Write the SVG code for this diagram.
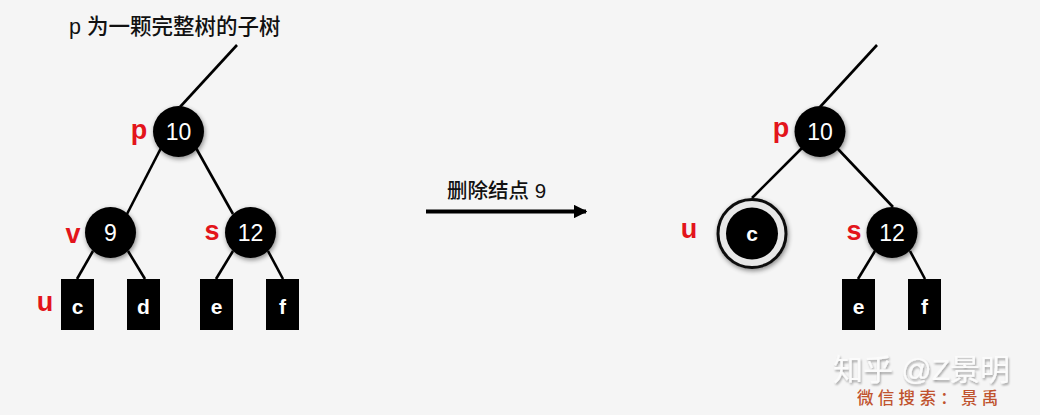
<svg xmlns="http://www.w3.org/2000/svg" width="1040" height="415" viewBox="0 0 1040 415">
<defs>
<filter id="sh" x="-50%" y="-50%" width="200%" height="200%">
<feGaussianBlur in="SourceAlpha" stdDeviation="2.5"/>
<feOffset dx="1" dy="2" result="b"/>
<feComponentTransfer><feFuncA type="linear" slope="0.45"/></feComponentTransfer>
<feMerge><feMergeNode/><feMergeNode in="SourceGraphic"/></feMerge>
</filter>
<filter id="wm" x="-10%" y="-30%" width="120%" height="160%">
<feGaussianBlur in="SourceAlpha" stdDeviation="1"/>
<feOffset dx="1" dy="1.5"/>
<feComponentTransfer><feFuncA type="linear" slope="0.35"/></feComponentTransfer>
<feMerge><feMergeNode/><feMergeNode in="SourceGraphic"/></feMerge>
</filter>
<marker id="arr" viewBox="0 0 10 10" refX="9" refY="5" markerWidth="3.2" markerHeight="3.2" orient="auto" markerUnits="strokeWidth">
<path d="M0,0 L10,5 L0,10 z" fill="#000"/>
</marker>
</defs>
<style>
.edge{stroke:#000;stroke-width:2.6;fill:none}
.circ{fill:#000;filter:url(#sh)}
.box{fill:#000}
.num{font-family:"Liberation Sans",Arial,sans-serif;font-size:23px;fill:#fff;text-anchor:middle}
.leaf{font-family:"Liberation Sans",Arial,sans-serif;font-size:21px;font-weight:bold;fill:#fff;text-anchor:middle}
.lbl{font-family:"Liberation Sans",Arial,sans-serif;font-size:27px;font-weight:bold;fill:#e3141b;text-anchor:middle}
.cap{font-family:"Liberation Sans","Noto Sans CJK SC",sans-serif;fill:#111;font-weight:500}
</style>
<rect width="1040" height="415" fill="#f5f5f5"/>

<text class="cap" x="69" y="34" font-size="21.5">p 为一颗完整树的子树</text>

<g id="connectors">
<line class="edge" x1="237" y1="45" x2="180" y2="107"/>
<line class="edge" x1="161" y1="148" x2="127" y2="214"/>
<line class="edge" x1="196" y1="148" x2="233" y2="214"/>
<line class="edge" x1="93" y1="251" x2="77" y2="279"/>
<line class="edge" x1="128" y1="251" x2="145" y2="279"/>
<line class="edge" x1="233" y1="251" x2="216" y2="279"/>
<line class="edge" x1="268" y1="251" x2="283" y2="279"/>
<line class="edge" x1="877" y1="45" x2="820" y2="107"/>
<line class="edge" x1="802" y1="148" x2="752" y2="198"/>
<line class="edge" x1="837" y1="148" x2="893" y2="207"/>
<line class="edge" x1="875" y1="251" x2="858" y2="279"/>
<line class="edge" x1="910" y1="251" x2="925" y2="279"/>
<line x1="426" y1="211.5" x2="586" y2="211.5" stroke="#000" stroke-width="4.2" marker-end="url(#arr)"/>
</g>
<text class="cap" x="447" y="198" font-size="20.5">删除结点 9</text>

<g id="L_p"><circle class="circ" cx="178.5" cy="131.5" r="25.5"/><text class="num" x="178.5" y="140">10</text><text class="lbl" x="139" y="139">p</text></g>
<g id="L_v"><circle class="circ" cx="110.5" cy="232.5" r="25.5"/><text class="num" x="110.5" y="241">9</text><text class="lbl" x="73" y="243">v</text></g>
<g id="L_s"><circle class="circ" cx="250.5" cy="232.5" r="25.5"/><text class="num" x="250.5" y="241">12</text><text class="lbl" x="212" y="240">s</text></g>
<g id="L_c"><rect class="box" x="61" y="279" width="33" height="51"/><text class="leaf" x="77.5" y="314">c</text><text class="lbl" x="45" y="311">u</text></g>
<g id="L_d"><rect class="box" x="127" y="279" width="33" height="51"/><text class="leaf" x="143.5" y="314">d</text></g>
<g id="L_e"><rect class="box" x="200" y="279" width="33" height="51"/><text class="leaf" x="216.5" y="314">e</text></g>
<g id="L_f"><rect class="box" x="266" y="279" width="33" height="51"/><text class="leaf" x="282.5" y="314">f</text></g>

<g id="R_p"><circle class="circ" cx="820" cy="131.5" r="25.5"/><text class="num" x="820" y="140">10</text><text class="lbl" x="781" y="137">p</text></g>
<g id="R_u"><circle cx="752" cy="233.5" r="34" fill="#e8e8e8" stroke="#111" stroke-width="3" filter="url(#sh)"/><circle cx="752" cy="233.5" r="26" fill="#000"/><text class="leaf" x="752" y="241">c</text><text class="lbl" x="689" y="238">u</text></g>
<g id="R_s"><circle class="circ" cx="892" cy="232.5" r="25.5"/><text class="num" x="892" y="241">12</text><text class="lbl" x="854" y="240">s</text></g>
<g id="R_e"><rect class="box" x="842" y="279" width="33" height="51"/><text class="leaf" x="858.5" y="314">e</text></g>
<g id="R_f"><rect class="box" x="908" y="279" width="33" height="51"/><text class="leaf" x="924.5" y="314">f</text></g>

<text x="833" y="380" font-family="Liberation Sans,'Noto Sans CJK SC',sans-serif" font-size="30" fill="#fbfbfb" filter="url(#wm)">知乎 @Z景明</text>
<text x="857" y="404" font-family="'Noto Sans CJK SC',sans-serif" font-size="16.5" font-weight="500" letter-spacing="4.3" fill="#c0532e">微信搜索：景禹</text>
</svg>
